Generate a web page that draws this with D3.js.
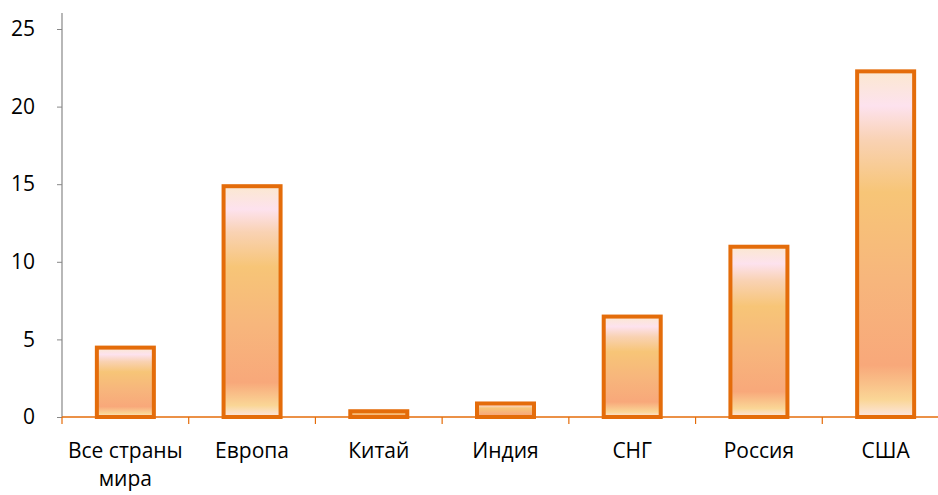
<!doctype html>
<html>

<head>
    <meta charset="utf-8">
    <title>Bar chart</title>
    <script type="text/javascript" src="https://d3js.org/d3.v7.min.js"></script>
    <style type="text/css">
        html,
        body {
            margin: 0;
            padding: 0;
            background: #fff;
        }

        #chart svg {
            display: block;
            font-family: "Open Sans", "Liberation Sans", sans-serif;
        }
    </style>

    <script type="text/javascript">
        // data
        var categories = ["Все страны мира", "Европа", "Китай", "Индия", "СНГ", "Россия", "США"]
        var values = [4.6, 15.0, 0.5, 1.0, 6.6, 11.1, 22.4]
        var yTicks = [0, 5, 10, 15, 20, 25]

        document.addEventListener("DOMContentLoaded", function (e) {
            var width = 938, height = 495
            var left = 62, right = 949, top = 29, bottom = 417

            var svg = d3.select("#chart")
                .append("svg")
                .attr("width", width)
                .attr("height", height)

            var defs = svg.append("defs")
            var grad = defs.append("linearGradient")
                .attr("id", "barFill")
                .attr("x1", 0).attr("y1", 0)
                .attr("x2", 0).attr("y2", 1)
            var stops = [
                [0, "#fbe8d0"], [0.1, "#fde2ee"], [0.2, "#f9d2b3"],
                [0.35, "#f7c577"], [0.6, "#f7b67c"], [0.85, "#f8a87a"],
                [0.95, "#fad696"], [1, "#fce6e2"]
            ]
            stops.forEach(function (s) {
                grad.append("stop").attr("offset", s[0]).attr("stop-color", s[1])
            })

            var x = d3.scaleBand()
                .domain(categories)
                .range([left, right])

            var y = d3.scaleLinear()
                .domain([0, 25])
                .range([bottom, top])

            // y axis
            var yAxis = svg.append("g")
                .attr("transform", "translate(" + left + ",0)")
                .call(d3.axisLeft(y).tickValues(yTicks).tickSize(5).tickPadding(22))
            yAxis.select(".domain").remove()
            yAxis.selectAll(".tick line").attr("stroke", "#888")
            yAxis.selectAll(".tick text")
                .attr("fill", "#000")
                .style("font-family", "'Open Sans', sans-serif")
                .style("font-size", "21px")
            svg.append("line")
                .attr("x1", left).attr("x2", left)
                .attr("y1", 13).attr("y2", bottom)
                .attr("stroke", "#888")
                .attr("stroke-width", 1.2)

            // bars
            var barW = 61
            svg.selectAll("rect.bar")
                .data(values)
                .enter()
                .append("rect")
                .attr("class", "bar")
                .attr("x", function (d, i) { return x(categories[i]) + x.bandwidth() / 2 - barW / 2 + 2 })
                .attr("y", function (d) { return y(d) + 2 })
                .attr("width", barW - 4)
                .attr("height", function (d) { return y(0) - y(d) - 2 })
                .attr("fill", "url(#barFill)")
                .attr("stroke", "#e46c0a")
                .attr("stroke-width", 4)

            // x axis
            svg.append("line")
                .attr("x1", left).attr("x2", right)
                .attr("y1", bottom).attr("y2", bottom)
                .attr("stroke", "#e46c0a")
                .attr("stroke-width", 1.5)

            var bounds = categories.map(function (c) { return x(c) }).concat([right])
            svg.selectAll("line.xtick")
                .data(bounds)
                .enter()
                .append("line")
                .attr("class", "xtick")
                .attr("x1", function (d) { return d })
                .attr("x2", function (d) { return d })
                .attr("y1", bottom)
                .attr("y2", bottom + 7)
                .attr("stroke", "#e46c0a")
                .attr("stroke-width", 1.2)

            // category labels, first one wrapped on two lines like the original
            var labelLines = []
            categories.forEach(function (c) {
                var parts = c === "Все страны мира" ? ["Все страны", "мира"] : [c]
                parts.forEach(function (l, i) {
                    labelLines.push({ cat: c, text: l, line: i })
                })
            })
            svg.selectAll("text.cat")
                .data(labelLines)
                .enter()
                .append("text")
                .attr("class", "cat")
                .attr("text-anchor", "middle")
                .attr("x", function (d) { return x(d.cat) + x.bandwidth() / 2 })
                .attr("y", function (d) { return 458 + d.line * 28 })
                .style("font-size", "21px")
                .attr("fill", "#000")
                .text(function (d) { return d.text })
        })
    </script>

</head>

<body>
    <div id="chart"></div>
</body>

</html>
